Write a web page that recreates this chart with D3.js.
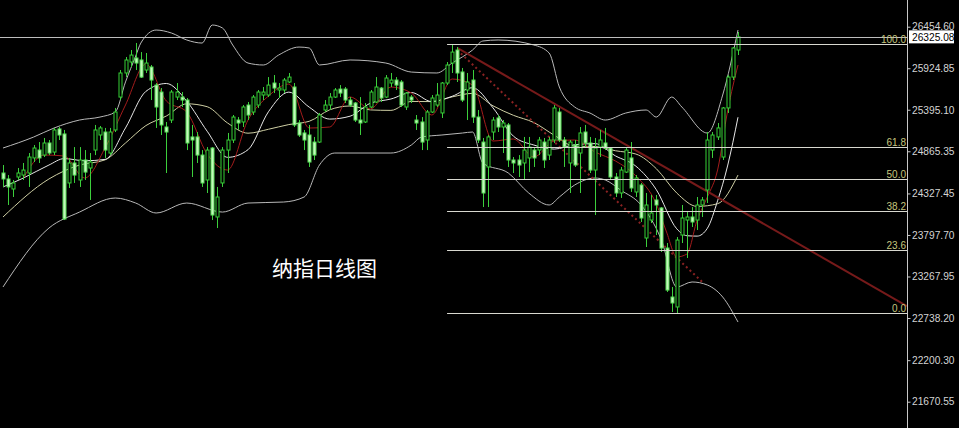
<!DOCTYPE html>
<html><head><meta charset="utf-8">
<script src="https://cdn.jsdelivr.net/npm/d3@7"></script>
<style>html,body{margin:0;padding:0;background:#000;overflow:hidden}svg{display:block}</style>
</head><body><script>
// ---- data ----
const opens = [24588,24512,24384,24537,24562,24588,24780,24881,24817,24971,24855,25150,25086,24461,24716,24499,24754,24652,24881,25073,25111,24843,25137,25557,25864,26004,26055,26030,25902,25940,25710,25621,25175,25264,25557,25557,25519,25048,25048,24817,24499,24907,24027,24461,24881,25009,25264,25239,25455,25366,25455,25583,25583,25736,25647,25647,25749,25685,25226,25099,25073,24983,24983,25392,25455,25557,25659,25659,25519,25481,25264,25239,25430,25494,25672,25557,25736,25774,25749,25430,25557,25264,25239,25009,25366,25455,25354,25736,25991,26157,25877,25647,25774,25302,24983,24665,25111,25290,25175,25201,24754,24754,24716,24780,24881,24881,24983,24817,25009,25366,25009,24716,24945,24843,25111,24971,24626,24919,24971,24907,24537,24333,24600,24780,24346,24435,23759,23988,24244,24142,23631,23006,22879,23797,23988,24027,23988,24180,24371,24881,25048,24792,25418,25812,26157];
const highs = [24690,24562,24499,24652,24716,24843,24945,24983,25035,25009,25163,25175,25137,24780,24919,24919,24881,24843,25201,25188,25163,25163,25418,25902,26068,26157,26247,26131,26119,25966,25736,25672,25239,25647,25736,25621,25545,25201,25111,24881,24919,24919,24410,24919,25099,25328,25302,25455,25494,25583,25647,25685,25812,25838,25736,25800,25864,25736,25264,25137,25201,25048,25354,25519,25608,25672,25710,25685,25557,25494,25557,25481,25647,25812,25685,25838,25864,25812,25774,25621,25583,25328,25302,25392,25583,25736,25749,26004,26230,26195,25928,25864,25902,25392,25035,25073,25302,25328,25264,25226,24792,24817,25048,25048,24919,25048,25035,25048,25455,25418,25048,25009,25009,25175,25201,25048,25035,25137,25163,24919,24588,24665,24907,24983,24562,24461,24333,24308,24308,24154,23695,23134,23771,24180,24091,24154,24282,24282,25111,25111,25226,25430,25838,26195,26387];
const lows = [24410,24180,24282,24499,24499,24410,24728,24716,24792,24817,24817,25009,23988,24397,24461,24410,24499,24244,24817,25009,24780,24817,25111,25519,25812,25940,25902,25800,25864,25519,25163,25073,24588,25226,25519,25430,24881,24537,24716,24410,24333,23988,23886,24410,24588,24971,25137,25175,25264,25328,25418,25519,25557,25608,25545,25608,25736,25175,25048,24881,24665,24754,24971,25366,25392,25545,25557,25481,25430,25239,25073,25226,25418,25481,25494,25545,25685,25647,25430,25392,25481,25137,24881,24881,25354,25430,25290,25710,25864,25749,25494,25264,25226,24971,24154,24154,25009,25111,24843,24665,24588,24537,24499,24600,24665,24817,24652,24754,24971,24983,24665,24333,24665,24333,24919,24588,24052,24792,24881,24499,24282,24270,24588,24346,24282,23963,23644,23950,23797,23580,23070,22815,22796,23695,23504,23899,23861,24027,24206,24780,25009,24754,25354,25774,26093];
const closes = [24512,24410,24461,24588,24626,24792,24907,24780,24971,24843,25137,25073,24001,24716,24562,24754,24600,24728,25137,25163,24881,25111,25366,25864,26030,26093,25991,25812,25991,25774,25430,25201,25111,25621,25621,25519,24971,25009,24817,24461,24881,24052,24282,24881,25009,25302,25226,25430,25328,25557,25621,25621,25710,25672,25672,25774,25812,25201,25073,25009,24728,24817,25328,25455,25557,25647,25608,25519,25455,25264,25226,25430,25621,25685,25545,25800,25774,25710,25455,25608,25519,25226,24983,25366,25545,25583,25736,25966,26131,25864,25519,25749,25302,25009,24333,25048,25264,25175,25226,24754,24716,24690,24881,24919,24780,25009,24754,25009,25418,25009,24919,24983,24690,25099,24971,24626,24907,25009,24907,24537,24333,24626,24881,24397,24524,24014,24180,24078,24180,23631,23095,22930,23733,24014,24027,23963,24180,24244,25009,25073,25163,25418,25812,26183,26325];

const ma5Idx = [4,8,12,16,20,24,28,32,36,40,44,48,52,56,60,64,68,72,76,80,84,88,92,96,100,104,108,112,116,120,124,128,130,132,134,136,138,140,142,144];
const ma5Val = [24524,24818,24805,24524,24907,25456,25979,25507,25366,24830,24626,25264,25570,25723,25162,25175,25558,25405,25685,25609,25328,25787,25711,24996,25022,24792,24996,25009,24856,24741,24550,24193,23835,23517,23555,23989,24282,24626,25392,25966];
const ma10Idx = [0,4,9,12,16,20,24,28,32,36,40,44,48,52,56,60,64,68,72,76,80,84,88,92,96,100,104,108,112,116,120,124,128,132,134,136,138,140,142,144];
const ma10Val = [24410,24524,24690,24772,24744,24762,25163,25630,25730,25505,25121,24788,24885,25369,25620,25428,25276,25313,25479,25532,25615,25499,25567,25676,25419,25058,24945,24893,24949,24963,24806,24675,24375,23876,23788,23783,23883,24233,24690,25300];
const midIdx = [0,9,15,20,24,28,32,36,40,44,48,52,56,60,64,68,72,76,80,84,88,92,96,100,104,108,112,116,120,124,128,132,136,140,144];
const midVal = [24027,24512,24690,24756,24971,25193,25315,25471,25434,25226,25096,25146,25206,25248,25394,25443,25393,25387,25501,25499,25559,25604,25445,25324,25232,25070,24929,24926,24872,24830,24643,24333,24162,24196,24562];
const upIdx = [0,6,10,15,19,22,24,26,27,30,33,36,39,41,43,45,48,51,54,58,60,62,68,75,80,85,88,92,94,97,104,107,109,112,115,118,122,126,128,131,133,138,141,144];
const upVal = [24907,25047,25162,25264,25302,25366,25750,26080,26246,26412,26374,26285,26246,26476,26438,26221,25991,25966,26093,26195,26183,25966,26030,25991,25876,25864,25991,26157,26272,26285,26221,26119,25685,25430,25353,25264,25353,25392,25302,25557,25430,25098,25583,26412];
const loIdx = [0,9,15,22,26,30,36,43,48,55,59,62,65,76,80,82,86,90,92,94,99,103,107,109,112,116,118,121,125,129,132,135,138,141,144];
const loVal = [23134,23886,24090,24269,24205,24078,24205,24090,24205,24218,24282,24690,24843,24843,24945,25047,25073,25098,25111,24716,24588,24333,24180,24282,24435,24524,24499,24371,24180,23733,23134,23198,23159,23006,22687];

const fibLevels = [0, 23.6, 38.2, 50, 61.8, 100];
const fibLabels = ["0.0", "23.6", "38.2", "50.0", "61.8", "100.0"];
const fibLow = 22796, fibHigh = 26230, fibStartIdx = 87;

const trendIdx = [89, 177.1], trendPrice = [26183, 22891];
const dotIdx = [89, 137], dotPrice = [26157, 23198];

const yTicks = [26454.60, 25924.85, 25395.10, 24865.35, 24327.45, 23797.70, 23267.95, 22738.20, 22200.30, 21670.55];
const bid = 26325.08;
const title = "纳指日线图";

// ---- drawing ----
const W = 959, H = 428, plotR = 907.5;
const svg = d3.select("body").append("svg").attr("width", W).attr("height", H).style("background", "#000");
const x = d3.scaleLinear().domain([0, 144]).range([3, 738]);
const y = d3.scaleLinear().domain([21670.55, 26454.60]).range([401.7, 26.7]);
svg.append("defs").append("clipPath").attr("id", "clip")
  .append("rect").attr("x", 0).attr("y", 0).attr("width", plotR).attr("height", H);
const g = svg.append("g").attr("clip-path", "url(#clip)");
const py = v => Math.round(y(v)) + 0.5;
const axisFont = "Liberation Sans, Arial, sans-serif";

// indicator lines
function drawLine(idx, val, color, width) {
  const ln = d3.line().x((d, i) => x(idx[i])).y(d => y(d)).curve(d3.curveMonotoneX);
  g.append("path").attr("d", ln(val)).attr("fill", "none").attr("stroke", color).attr("stroke-width", width);
}
drawLine(upIdx, upVal, "#b8b8b8", 1);
drawLine(loIdx, loVal, "#b8b8b8", 1);
drawLine(midIdx, midVal, "#cfcfa4", 1);
drawLine(ma10Idx, ma10Val, "#e6e6e6", 1);
drawLine(ma5Idx, ma5Val, "#a41c1c", 1);

// trend lines
g.append("line").attr("x1", x(trendIdx[0])).attr("y1", y(trendPrice[0]))
  .attr("x2", x(trendIdx[1])).attr("y2", y(trendPrice[1]))
  .attr("stroke", "#761a1a").attr("stroke-width", 2);
g.append("line").attr("x1", x(dotIdx[0])).attr("y1", y(dotPrice[0]))
  .attr("x2", x(dotIdx[1])).attr("y2", y(dotPrice[1]))
  .attr("stroke", "#8a2222").attr("stroke-width", 2).attr("stroke-dasharray", "2,3");

// candles
const cg = g.append("g");
opens.forEach((o, i) => {
  const c = closes[i], cx = Math.round(x(i)) + 0.5;
  const bull = c >= o;
  cg.append("line").attr("x1", cx).attr("x2", cx).attr("y1", y(highs[i])).attr("y2", y(lows[i]))
    .attr("stroke", "#3ccf3c").attr("stroke-width", 1);
  const top = y(Math.max(o, c)), bot = y(Math.min(o, c));
  cg.append("rect").attr("x", cx - 1.5).attr("width", 3)
    .attr("y", top).attr("height", Math.max(1, bot - top))
    .attr("fill", bull ? "#000" : "#c4f7bc")
    .attr("stroke", bull ? "#36d236" : "#58e058").attr("stroke-width", 1);
});

// bid line
g.append("line").attr("x1", 0).attr("x2", plotR).attr("y1", py(bid)).attr("y2", py(bid))
  .attr("stroke", "#bdbdbd").attr("stroke-width", 1);

// fibonacci
const fg = g.append("g");
fibLevels.forEach((lv, k) => {
  const p = fibLow + (fibHigh - fibLow) * lv / 100;
  fg.append("line").attr("x1", x(fibStartIdx)).attr("x2", plotR).attr("y1", py(p)).attr("y2", py(p))
    .attr("stroke", "#d8d8d0").attr("stroke-width", 1);
  fg.append("text").attr("x", 906).attr("y", py(p) - 2).attr("text-anchor", "end")
    .attr("fill", "#c6c67e").attr("font-family", axisFont)
    .attr("font-size", 10).text(fibLabels[k]);
});

// title
svg.append("text").attr("x", 272).attr("y", 276).attr("fill", "#ffffff")
  .attr("font-family", "Noto Sans CJK SC, sans-serif").attr("font-size", 21).text(title);

// price axis
svg.append("line").attr("x1", plotR).attr("x2", plotR).attr("y1", 0).attr("y2", H)
  .attr("stroke", "#c8c8c8").attr("stroke-width", 1);
const axis = d3.axisRight(y).tickValues(yTicks).tickFormat(d3.format(".2f")).tickSize(3).tickSizeOuter(0);
const ag = svg.append("g").attr("transform", `translate(${plotR},0)`).call(axis);
ag.select(".domain").remove();
ag.selectAll(".tick line").attr("stroke", "#c8c8c8");
ag.selectAll(".tick text").attr("fill", "#d4d4d4").attr("x", 4.5)
  .attr("font-family", axisFont).attr("font-size", 10.2);

// current price box
const by = y(bid);
svg.append("rect").attr("x", plotR + 1.5).attr("y", by - 6.5).attr("width", 45).attr("height", 13).attr("fill", "#ffffff");
svg.append("text").attr("x", plotR + 4.5).attr("y", by + 3.8).attr("fill", "#000")
  .attr("font-family", axisFont).attr("font-size", 10.2).text(bid.toFixed(2));
</script></body></html>
